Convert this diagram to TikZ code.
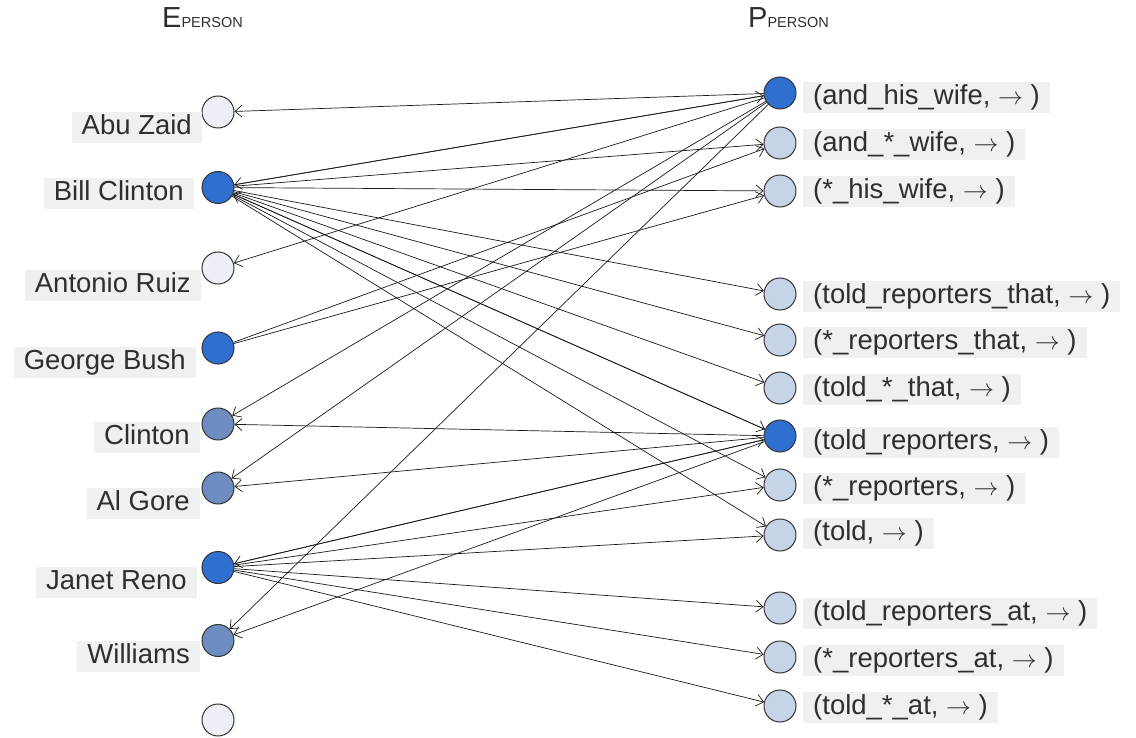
\documentclass[tikz,border=0pt]{standalone}
\usepackage{fontspec}
\setmainfont{Liberation Sans}
\usetikzlibrary{arrows.meta}
\definecolor{hubblue}{HTML}{2F6FCF}
\definecolor{midblue}{HTML}{6D8DC0}
\definecolor{patblue}{HTML}{C6D4E8}
\definecolor{paleblue}{HTML}{ECEFF5}
\definecolor{boxgray}{HTML}{EFF1F1}
\definecolor{inkgray}{HTML}{2E2E2E}
\begin{document}
\begin{tikzpicture}[x=1pt,y=-1pt,
  vtx/.style={circle, draw=black!80, line width=1pt, minimum size=32pt, inner sep=0pt},
  hub/.style={vtx, fill=hubblue},
  mid/.style={vtx, fill=midblue},
  pat/.style={vtx, fill=patblue},
  pale/.style={vtx, fill=paleblue},
  lbl/.style={fill=boxgray, text=inkgray, inner xsep=10pt, inner ysep=2.5pt,
    text height=20pt, text depth=6pt, font=\fontsize{27.5}{30}\selectfont},
  lbll/.style={lbl, anchor=east},
  lblr/.style={lbl, anchor=west},
  head/.style={anchor=base west, inner sep=0pt, text=inkgray, font=\fontsize{29}{30}\selectfont},
  link/.style={line width=0.7pt, draw=black!90, -{Straight Barb[length=7pt,width=12pt]}}]
\useasboundingbox (0,0) rectangle (1136,738);

% column headings
\node[head] (hE) at (162,28) {E{\fontsize{14.5}{15}\selectfont PERSON}};
\node[head] (hP) at (748,28) {P{\fontsize{14.5}{15}\selectfont PERSON}};

% entity vertices
\node[pale] (e1) at (218,112) {};
\node[hub]  (e2) at (218,187.5) {};
\node[pale] (e3) at (218,268) {};
\node[hub]  (e4) at (218,348) {};
\node[mid]  (e5) at (218,424) {};
\node[mid]  (e6) at (218,488) {};
\node[hub]  (e7) at (218,567.5) {};
\node[mid]  (e8) at (218,640.5) {};
\node[pale] (e9) at (218,720) {};

% entity labels
\node[lbll] (l1) at (202,127.5) {Abu Zaid\hspace{10pt}};
\node[lbll] (l2) at (194,194) {Bill Clinton\hspace{10pt}};
\node[lbll] (l3) at (201,286) {Antonio Ruiz\hspace{10pt}};
\node[lbll] (l4) at (196,362) {George Bush\hspace{10pt}};
\node[lbll] (l5) at (200,437) {Clinton\hspace{10pt}};
\node[lbll] (l6) at (200,503) {Al Gore\hspace{10pt}};
\node[lbll] (l7) at (197,582.5) {Janet Reno\hspace{10pt}};
\node[lbll] (l8) at (200,656) {Williams\hspace{10pt}};

% pattern vertices
\node[hub] (p1)  at (780,93) {};
\node[pat] (p2)  at (780,143) {};
\node[pat] (p3)  at (780,191) {};
\node[pat] (p4)  at (780,294) {};
\node[pat] (p5)  at (780,340) {};
\node[pat] (p6)  at (780,388) {};
\node[hub] (p7)  at (780,436) {};
\node[pat] (p8)  at (780,485) {};
\node[pat] (p9)  at (780,535) {};
\node[pat] (p10) at (780,608) {};
\node[pat] (p11) at (780,657) {};
\node[pat] (p12) at (780,706) {};

% pattern labels
\node[lblr] (q1)  at (803,98)    {(and\_his\_wife, $\rightarrow$ )\hspace{10pt}};
\node[lblr] (q2)  at (803,145)   {(and\_*\_wife, $\rightarrow$ )\hspace{10pt}};
\node[lblr] (q3)  at (803,191.5) {(*\_his\_wife, $\rightarrow$ )\hspace{10pt}};
\node[lblr] (q4)  at (803,297)   {(told\_reporters\_that, $\rightarrow$ )\hspace{10pt}};
\node[lblr] (q5)  at (803,342)   {(*\_reporters\_that, $\rightarrow$ )\hspace{10pt}};
\node[lblr] (q6)  at (803,389)   {(told\_*\_that, $\rightarrow$ )\hspace{10pt}};
\node[lblr] (q7)  at (803,442)   {(told\_reporters, $\rightarrow$ )\hspace{10pt}};
\node[lblr] (q8)  at (803,488)   {(*\_reporters, $\rightarrow$ )\hspace{10pt}};
\node[lblr] (q9)  at (803,533)   {(told, $\rightarrow$ )\hspace{10pt}};
\node[lblr] (q10) at (803,613.5) {(told\_reporters\_at, $\rightarrow$ )\hspace{10pt}};
\node[lblr] (q11) at (803,660)   {(*\_reporters\_at, $\rightarrow$ )\hspace{10pt}};
\node[lblr] (q12) at (803,707)   {(told\_*\_at, $\rightarrow$ )\hspace{10pt}};

% pattern -> entity
\foreach \t in {e1,e2,e3,e5,e6,e8} \draw[link] (p1) -- (\t);
\foreach \t in {e2,e5,e6,e7,e8} \draw[link] (p7) -- (\t);
% entity -> pattern
\foreach \t in {p1,p2,p3,p4,p5,p6,p7,p8,p9} \draw[link] (e2) -- (\t);
\foreach \t in {p2,p3} \draw[link] (e4) -- (\t);
\foreach \t in {p7,p8,p9,p10,p11,p12} \draw[link] (e7) -- (\t);
\end{tikzpicture}
\end{document}
